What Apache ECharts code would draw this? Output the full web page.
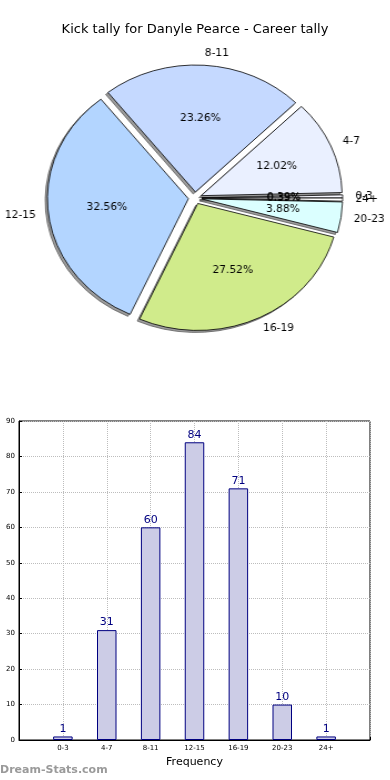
<!DOCTYPE html>
<html><head><meta charset="utf-8">
<script src="https://cdn.jsdelivr.net/npm/echarts@6/dist/echarts.min.js"></script>
<style>
html,body{margin:0;padding:0;background:#fff;}
#main{position:absolute;left:0;top:0;width:390px;height:780px;}
#pie{position:absolute;left:0;top:0;width:390px;height:400px;transform-origin:195px 198px;transform:scaleX(1.11);}
</style>
</head><body>
<div id="main"></div><div id="pie"></div>
<script>
const titleText = 'Kick tally for Danyle Pearce - Career tally';
const categories = ['0-3', '4-7', '8-11', '12-15', '16-19', '20-23', '24+'];
const counts = [1, 31, 60, 84, 71, 10, 1];
const sliceColors = ['#f7f7ff', '#eaf0ff', '#c5d9ff', '#b3d5ff', '#d0eb8b', '#dbffff', '#ffffff'];
const xAxisName = 'Frequency';
const watermark = 'Dream-Stats.com';

const total = counts.reduce((a, b) => a + b, 0);
const font = 'DejaVu Sans';
// tiny neighbouring slices: nudge their labels apart a little, as in the reference
const labelNudge = {'0-3': [0, 0, 4, 0], '24+': [4, 0, 0, 0]};

const common = {
  type: 'pie', center: [195, 198], clockwise: false, startAngle: 0,
  selectedMode: 'multiple', selectedOffset: 6, avoidLabelOverlap: false, silent: true,
  minShowLabelAngle: 0, labelLayout: {hideOverlap: false}
};

const pie = echarts.init(document.getElementById('pie'), null, {renderer: 'canvas'});
pie.setOption({
  animation: false,
  series: [
    Object.assign({}, common, {
      center: [193, 200], radius: [0, 127], z: 1,
      data: categories.map((c, i) => ({name: c, value: counts[i], selected: true})),
      itemStyle: {color: '#9c9c9c', borderColor: '#5a5a5a', borderWidth: 0.8},
      label: {show: false}, labelLine: {show: false}
    }),
    Object.assign({}, common, {
      radius: [0, 127], z: 2,
      data: categories.map((c, i) => ({name: c, value: counts[i], selected: true,
        itemStyle: {color: sliceColors[i]},
        label: labelNudge[c] ? {show: true, padding: labelNudge[c]} : {}})),
      itemStyle: {borderColor: '#000', borderWidth: 0.8},
      label: {show: true, position: 'outside', formatter: '{b}', fontSize: 9.6, color: '#000', fontFamily: font, distanceToLabelLine: 0},
      labelLine: {show: false, length: 11.5, length2: 0}
    }),
    Object.assign({}, common, {
      radius: [0, 142], z: 3,
      data: categories.map((c, i) => ({name: c, value: counts[i], selected: true,
        label: labelNudge[c] ? {show: true, padding: labelNudge[c].map(v => v / 2)} : {}})),
      itemStyle: {color: 'rgba(0,0,0,0)', borderWidth: 0},
      label: {show: true, position: 'inside', fontSize: 9.6, color: '#000', fontFamily: font,
        formatter: p => (p.value / total * 100).toFixed(2) + '%'},
      labelLine: {show: false}
    })
  ]
});

const main = echarts.init(document.getElementById('main'), null, {renderer: 'canvas'});
main.setOption({
  animation: false,
  title: {text: titleText, left: 'center', top: 18.5,
    textStyle: {fontSize: 13, fontWeight: 'normal', fontFamily: font, color: '#000'}},
  graphic: [{type: 'text', left: 0, top: 765, style: {text: watermark, fill: '#9a9a9a', font: 'bold 11px "DejaVu Sans"'}}],
  grid: {left: 19, right: 20, top: 421, bottom: 40, show: true, borderColor: '#000', borderWidth: 1},
  xAxis: {
    type: 'category', data: [''].concat(categories, ['']), boundaryGap: false,
    axisLine: {lineStyle: {color: '#000', width: 1}},
    axisTick: {show: true, inside: true, length: 3, interval: 0, lineStyle: {color: '#000'}},
    axisLabel: {fontSize: 7, margin: 5, interval: 0, color: '#000', fontFamily: font},
    name: xAxisName, nameLocation: 'middle', nameGap: 17,
    nameTextStyle: {fontSize: 11, color: '#000', fontFamily: font},
    splitLine: {show: true, interval: 0, lineStyle: {type: 'dotted', color: '#bdbdbd', width: 1}}
  },
  yAxis: {
    type: 'value', min: 0, max: 90, interval: 10,
    axisLine: {show: true, lineStyle: {color: '#000', width: 1}},
    axisTick: {show: true, inside: true, length: 3, lineStyle: {color: '#000'}},
    axisLabel: {fontSize: 7, margin: 4, color: '#000', fontFamily: font},
    splitLine: {show: true, lineStyle: {type: 'dotted', color: '#bdbdbd', width: 1}}
  },
  series: [{
    type: 'bar', data: [null].concat(counts, [null]), barWidth: 19.5, silent: true,
    itemStyle: {color: '#ccccE6', borderColor: '#000080', borderWidth: 1},
    label: {show: true, position: 'top', distance: 2, fontSize: 11, color: '#000080', fontFamily: font}
  }]
});
</script>
</body></html>
